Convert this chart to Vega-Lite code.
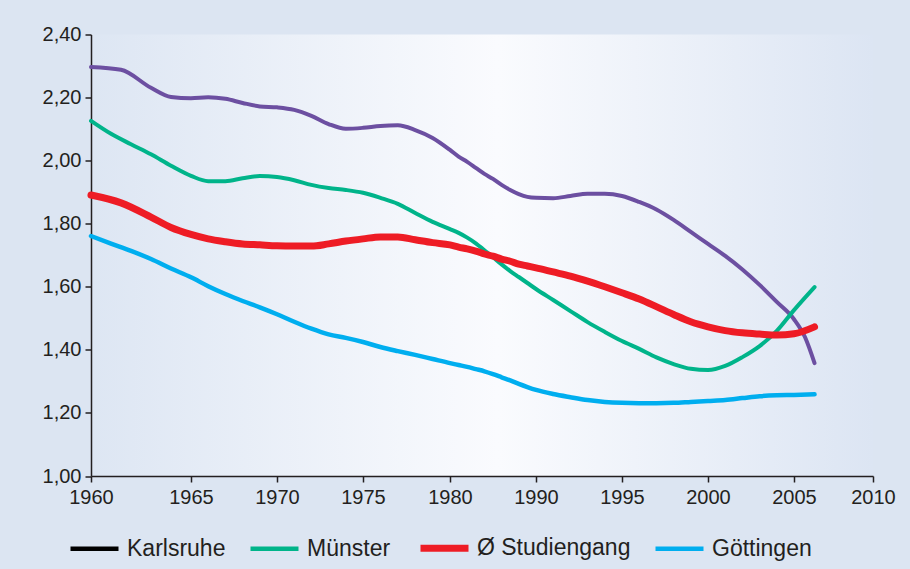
{
  "$schema": "https://vega.github.io/schema/vega-lite/v6.json",
  "autosize": "none",
  "width": 782,
  "height": 441.5,
  "padding": {"left": 91, "top": 34.5, "right": 37, "bottom": 93},
  "background": "#dce5f2",
  "config": {
    "view": {"stroke": null, "fill": {"gradient": "linear", "x1": 0, "y1": 0, "x2": 1, "y2": 0, "stops": [{"offset": 0, "color": "#dde6f3"}, {"offset": 0.52, "color": "#fafbfe"}, {"offset": 1, "color": "#dce5f3"}]}},
    "axis": {"labelFont": "Liberation Sans", "labelFontSize": 20, "labelColor": "#231f20", "domainColor": "#231f20", "tickColor": "#231f20", "domainWidth": 1.5, "tickWidth": 1.5, "tickSize": 6, "grid": false, "title": null},
    "legend": {"labelFont": "Liberation Sans", "labelFontSize": 23, "labelColor": "#231f20", "padding": 0}
  },
  "data": {"values": [
    {"s": "Karlsruhe", "year": 1960, "v": 2.297},
    {"s": "Karlsruhe", "year": 1961.5, "v": 2.288},
    {"s": "Karlsruhe", "year": 1963, "v": 2.231},
    {"s": "Karlsruhe", "year": 1964, "v": 2.202},
    {"s": "Karlsruhe", "year": 1965, "v": 2.198},
    {"s": "Karlsruhe", "year": 1966, "v": 2.201},
    {"s": "Karlsruhe", "year": 1967, "v": 2.196},
    {"s": "Karlsruhe", "year": 1968, "v": 2.183},
    {"s": "Karlsruhe", "year": 1969, "v": 2.172},
    {"s": "Karlsruhe", "year": 1970, "v": 2.169},
    {"s": "Karlsruhe", "year": 1971, "v": 2.161},
    {"s": "Karlsruhe", "year": 1972, "v": 2.142},
    {"s": "Karlsruhe", "year": 1973, "v": 2.116},
    {"s": "Karlsruhe", "year": 1974, "v": 2.101},
    {"s": "Karlsruhe", "year": 1975, "v": 2.104},
    {"s": "Karlsruhe", "year": 1976, "v": 2.110},
    {"s": "Karlsruhe", "year": 1977, "v": 2.112},
    {"s": "Karlsruhe", "year": 1978, "v": 2.097},
    {"s": "Karlsruhe", "year": 1979, "v": 2.072},
    {"s": "Karlsruhe", "year": 1980, "v": 2.034},
    {"s": "Karlsruhe", "year": 1981, "v": 2.013},
    {"s": "Karlsruhe", "year": 1982, "v": 1.996},
    {"s": "Karlsruhe", "year": 1983, "v": 1.977},
    {"s": "Karlsruhe", "year": 1984, "v": 1.958},
    {"s": "Karlsruhe", "year": 1985, "v": 1.942},
    {"s": "Karlsruhe", "year": 1986, "v": 1.923},
    {"s": "Karlsruhe", "year": 1987, "v": 1.907},
    {"s": "Karlsruhe", "year": 1988, "v": 1.894},
    {"s": "Karlsruhe", "year": 1989, "v": 1.885},
    {"s": "Karlsruhe", "year": 1990, "v": 1.882},
    {"s": "Karlsruhe", "year": 1991, "v": 1.881},
    {"s": "Karlsruhe", "year": 1992, "v": 1.888},
    {"s": "Karlsruhe", "year": 1993, "v": 1.895},
    {"s": "Karlsruhe", "year": 1994, "v": 1.895},
    {"s": "Karlsruhe", "year": 1995, "v": 1.888},
    {"s": "Karlsruhe", "year": 1996, "v": 1.869},
    {"s": "Karlsruhe", "year": 1997, "v": 1.845},
    {"s": "Karlsruhe", "year": 1998, "v": 1.812},
    {"s": "Karlsruhe", "year": 1999, "v": 1.774},
    {"s": "Karlsruhe", "year": 2000, "v": 1.736},
    {"s": "Karlsruhe", "year": 2001, "v": 1.698},
    {"s": "Karlsruhe", "year": 2002, "v": 1.655},
    {"s": "Karlsruhe", "year": 2003, "v": 1.606},
    {"s": "Karlsruhe", "year": 2004, "v": 1.552},
    {"s": "Karlsruhe", "year": 2005, "v": 1.497},
    {"s": "Karlsruhe", "year": 2005.7, "v": 1.44},
    {"s": "Karlsruhe", "year": 2006.3, "v": 1.358},

    {"s": "Münster", "year": 1960, "v": 2.126},
    {"s": "Münster", "year": 1961, "v": 2.085},
    {"s": "Münster", "year": 1962, "v": 2.052},
    {"s": "Münster", "year": 1963, "v": 2.02},
    {"s": "Münster", "year": 1964, "v": 1.984},
    {"s": "Münster", "year": 1965, "v": 1.952},
    {"s": "Münster", "year": 1966, "v": 1.935},
    {"s": "Münster", "year": 1967, "v": 1.935},
    {"s": "Münster", "year": 1968, "v": 1.944},
    {"s": "Münster", "year": 1969, "v": 1.951},
    {"s": "Münster", "year": 1970, "v": 1.948},
    {"s": "Münster", "year": 1971, "v": 1.938},
    {"s": "Münster", "year": 1972, "v": 1.923},
    {"s": "Münster", "year": 1973, "v": 1.913},
    {"s": "Münster", "year": 1974, "v": 1.907},
    {"s": "Münster", "year": 1975, "v": 1.898},
    {"s": "Münster", "year": 1976, "v": 1.882},
    {"s": "Münster", "year": 1977, "v": 1.863},
    {"s": "Münster", "year": 1978, "v": 1.834},
    {"s": "Münster", "year": 1979, "v": 1.806},
    {"s": "Münster", "year": 1980, "v": 1.783},
    {"s": "Münster", "year": 1981, "v": 1.771},
    {"s": "Münster", "year": 1982, "v": 1.756},
    {"s": "Münster", "year": 1983, "v": 1.738},
    {"s": "Münster", "year": 1984, "v": 1.716},
    {"s": "Münster", "year": 1985, "v": 1.694},
    {"s": "Münster", "year": 1986, "v": 1.671},
    {"s": "Münster", "year": 1987, "v": 1.65},
    {"s": "Münster", "year": 1988, "v": 1.631},
    {"s": "Münster", "year": 1989, "v": 1.612},
    {"s": "Münster", "year": 1990, "v": 1.593},
    {"s": "Münster", "year": 1991, "v": 1.558},
    {"s": "Münster", "year": 1992, "v": 1.523},
    {"s": "Münster", "year": 1993, "v": 1.488},
    {"s": "Münster", "year": 1994, "v": 1.457},
    {"s": "Münster", "year": 1995, "v": 1.428},
    {"s": "Münster", "year": 1996, "v": 1.403},
    {"s": "Münster", "year": 1997, "v": 1.376},
    {"s": "Münster", "year": 1998, "v": 1.355},
    {"s": "Münster", "year": 1999, "v": 1.34},
    {"s": "Münster", "year": 2000, "v": 1.336},
    {"s": "Münster", "year": 2001, "v": 1.349},
    {"s": "Münster", "year": 2002, "v": 1.377},
    {"s": "Münster", "year": 2003, "v": 1.412},
    {"s": "Münster", "year": 2004, "v": 1.46},
    {"s": "Münster", "year": 2005, "v": 1.526},
    {"s": "Münster", "year": 2006.3, "v": 1.599},

    {"s": "Ø Studiengang", "year": 1960, "v": 1.891},
    {"s": "Ø Studiengang", "year": 1961.5, "v": 1.866},
    {"s": "Ø Studiengang", "year": 1963, "v": 1.821},
    {"s": "Ø Studiengang", "year": 1964, "v": 1.788},
    {"s": "Ø Studiengang", "year": 1965, "v": 1.766},
    {"s": "Ø Studiengang", "year": 1966, "v": 1.752},
    {"s": "Ø Studiengang", "year": 1967, "v": 1.743},
    {"s": "Ø Studiengang", "year": 1968, "v": 1.736},
    {"s": "Ø Studiengang", "year": 1969, "v": 1.733},
    {"s": "Ø Studiengang", "year": 1970, "v": 1.73},
    {"s": "Ø Studiengang", "year": 1971, "v": 1.729},
    {"s": "Ø Studiengang", "year": 1972, "v": 1.729},
    {"s": "Ø Studiengang", "year": 1973, "v": 1.736},
    {"s": "Ø Studiengang", "year": 1974, "v": 1.745},
    {"s": "Ø Studiengang", "year": 1975, "v": 1.752},
    {"s": "Ø Studiengang", "year": 1976, "v": 1.758},
    {"s": "Ø Studiengang", "year": 1977, "v": 1.758},
    {"s": "Ø Studiengang", "year": 1978, "v": 1.749},
    {"s": "Ø Studiengang", "year": 1979, "v": 1.74},
    {"s": "Ø Studiengang", "year": 1980, "v": 1.733},
    {"s": "Ø Studiengang", "year": 1981, "v": 1.726},
    {"s": "Ø Studiengang", "year": 1982, "v": 1.72},
    {"s": "Ø Studiengang", "year": 1983, "v": 1.713},
    {"s": "Ø Studiengang", "year": 1984, "v": 1.704},
    {"s": "Ø Studiengang", "year": 1985, "v": 1.697},
    {"s": "Ø Studiengang", "year": 1986, "v": 1.688},
    {"s": "Ø Studiengang", "year": 1987, "v": 1.681},
    {"s": "Ø Studiengang", "year": 1988, "v": 1.672},
    {"s": "Ø Studiengang", "year": 1989, "v": 1.666},
    {"s": "Ø Studiengang", "year": 1990, "v": 1.66},
    {"s": "Ø Studiengang", "year": 1991, "v": 1.647},
    {"s": "Ø Studiengang", "year": 1992, "v": 1.634},
    {"s": "Ø Studiengang", "year": 1993, "v": 1.618},
    {"s": "Ø Studiengang", "year": 1994, "v": 1.6},
    {"s": "Ø Studiengang", "year": 1995, "v": 1.581},
    {"s": "Ø Studiengang", "year": 1996, "v": 1.561},
    {"s": "Ø Studiengang", "year": 1997, "v": 1.537},
    {"s": "Ø Studiengang", "year": 1998, "v": 1.512},
    {"s": "Ø Studiengang", "year": 1999, "v": 1.489},
    {"s": "Ø Studiengang", "year": 2000, "v": 1.473},
    {"s": "Ø Studiengang", "year": 2001, "v": 1.461},
    {"s": "Ø Studiengang", "year": 2002, "v": 1.454},
    {"s": "Ø Studiengang", "year": 2003, "v": 1.45},
    {"s": "Ø Studiengang", "year": 2004, "v": 1.447},
    {"s": "Ø Studiengang", "year": 2005, "v": 1.451},
    {"s": "Ø Studiengang", "year": 2006.3, "v": 1.473},

    {"s": "Göttingen", "year": 1960, "v": 1.761},
    {"s": "Göttingen", "year": 1961, "v": 1.737},
    {"s": "Göttingen", "year": 1962, "v": 1.714},
    {"s": "Göttingen", "year": 1963, "v": 1.688},
    {"s": "Göttingen", "year": 1964, "v": 1.658},
    {"s": "Göttingen", "year": 1965, "v": 1.63},
    {"s": "Göttingen", "year": 1966, "v": 1.602},
    {"s": "Göttingen", "year": 1967, "v": 1.577},
    {"s": "Göttingen", "year": 1968, "v": 1.555},
    {"s": "Göttingen", "year": 1969, "v": 1.535},
    {"s": "Göttingen", "year": 1970, "v": 1.513},
    {"s": "Göttingen", "year": 1971, "v": 1.489},
    {"s": "Göttingen", "year": 1972, "v": 1.467},
    {"s": "Göttingen", "year": 1973, "v": 1.449},
    {"s": "Göttingen", "year": 1974, "v": 1.438},
    {"s": "Göttingen", "year": 1975, "v": 1.425},
    {"s": "Göttingen", "year": 1976, "v": 1.409},
    {"s": "Göttingen", "year": 1977, "v": 1.396},
    {"s": "Göttingen", "year": 1978, "v": 1.384},
    {"s": "Göttingen", "year": 1979, "v": 1.371},
    {"s": "Göttingen", "year": 1980, "v": 1.358},
    {"s": "Göttingen", "year": 1981, "v": 1.352},
    {"s": "Göttingen", "year": 1982, "v": 1.346},
    {"s": "Göttingen", "year": 1983, "v": 1.339},
    {"s": "Göttingen", "year": 1984, "v": 1.332},
    {"s": "Göttingen", "year": 1985, "v": 1.323},
    {"s": "Göttingen", "year": 1986, "v": 1.313},
    {"s": "Göttingen", "year": 1987, "v": 1.303},
    {"s": "Göttingen", "year": 1988, "v": 1.292},
    {"s": "Göttingen", "year": 1989, "v": 1.282},
    {"s": "Göttingen", "year": 1990, "v": 1.273},
    {"s": "Göttingen", "year": 1991, "v": 1.26},
    {"s": "Göttingen", "year": 1992, "v": 1.25},
    {"s": "Göttingen", "year": 1993, "v": 1.241},
    {"s": "Göttingen", "year": 1994, "v": 1.235},
    {"s": "Göttingen", "year": 1995, "v": 1.232},
    {"s": "Göttingen", "year": 1996, "v": 1.231},
    {"s": "Göttingen", "year": 1997, "v": 1.231},
    {"s": "Göttingen", "year": 1998, "v": 1.232},
    {"s": "Göttingen", "year": 1999, "v": 1.235},
    {"s": "Göttingen", "year": 2000, "v": 1.238},
    {"s": "Göttingen", "year": 2001, "v": 1.241},
    {"s": "Göttingen", "year": 2002, "v": 1.247},
    {"s": "Göttingen", "year": 2003, "v": 1.253},
    {"s": "Göttingen", "year": 2004, "v": 1.256},
    {"s": "Göttingen", "year": 2005, "v": 1.257},
    {"s": "Göttingen", "year": 2006.3, "v": 1.259}
  ]},
  "encoding": {
    "x": {
      "field": "year", "type": "quantitative",
      "scale": {"domain": [1960, 1965, 1970, 1975, 1980, 1990, 1995, 2000, 2005, 2010], "range": [0, 100, 186, 272, 359, 445, 531, 617, 703, 782]},
      "axis": {"values": [1960, 1965, 1970, 1975, 1980, 1990, 1995, 2000, 2005, 2010], "format": "d", "labelPadding": 5, "labelFlush": false,
        "encode": {"labels": {"update": {"dx": {"signal": "datum.value === 1960 ? 10 : 0"}}}}}
    },
    "y": {
      "field": "v", "type": "quantitative",
      "scale": {"domain": [1, 2.4], "nice": false, "zero": false},
      "axis": {"values": [1, 1.2, 1.4, 1.6, 1.8, 2, 2.2, 2.4], "labelExpr": "replace(format(datum.value, '.2f'), '.', ',')", "labelPadding": 4}
    }
  },
  "layer": [
    {
      "transform": [{"filter": "datum.s === 'Göttingen'"}],
      "mark": {"type": "line", "interpolate": "monotone", "strokeCap": "round", "strokeJoin": "round", "strokeWidth": 4.5, "stroke": "#00aeef"}
    },
    {
      "transform": [{"filter": "datum.s === 'Karlsruhe'"}],
      "mark": {"type": "line", "interpolate": "monotone", "strokeCap": "round", "strokeJoin": "round", "strokeWidth": 4, "stroke": "#6c4fa1"}
    },
    {
      "transform": [{"filter": "datum.s === 'Münster'"}],
      "mark": {"type": "line", "interpolate": "monotone", "strokeCap": "round", "strokeJoin": "round", "strokeWidth": 4, "stroke": "#00b48a"}
    },
    {
      "transform": [{"filter": "datum.s === 'Ø Studiengang'"}],
      "mark": {"type": "line", "interpolate": "monotone", "strokeCap": "round", "strokeJoin": "round", "strokeWidth": 7, "stroke": "#ee1c25"}
    },
    {
      "transform": [{"filter": "datum.year === 1960"}],
      "mark": {"type": "line", "strokeCap": "butt"},
      "encoding": {
        "color": {
          "field": "s", "type": "nominal",
          "scale": {"domain": ["Karlsruhe", "Münster", "Ø Studiengang", "Göttingen"], "range": ["#000000", "#00b48a", "#ee1c25", "#00aeef"]},
          "legend": {
            "orient": "none", "legendX": -24, "legendY": 486, "direction": "horizontal", "columns": 4, "title": null,
            "symbolType": "stroke", "symbolSize": 2304, "labelOffset": 5, "columnPadding": 15
          }
        },
        "strokeWidth": {
          "field": "s", "type": "nominal",
          "scale": {"type": "ordinal", "domain": ["Karlsruhe", "Münster", "Ø Studiengang", "Göttingen"], "range": [4.5, 4.5, 7, 4.5]}
        }
      }
    }
  ]
}
